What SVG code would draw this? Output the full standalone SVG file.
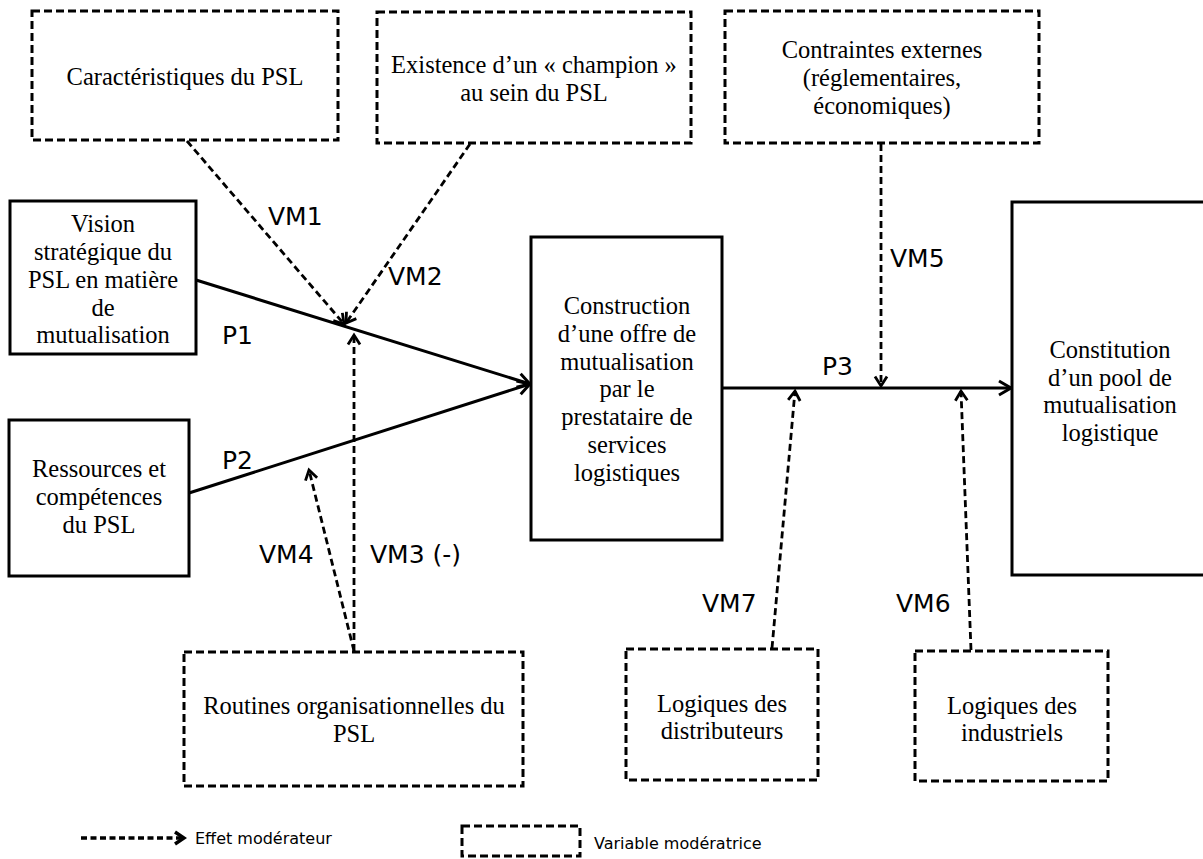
<svg xmlns="http://www.w3.org/2000/svg" width="1203" height="859" viewBox="0 0 1203 859">
<style>
.bg{fill:#fff}
.solid{fill:#fff;stroke:#000;stroke-width:3}
.dash{fill:#fff;stroke:#000;stroke-width:3;stroke-dasharray:8 4}
.t{font-family:"Liberation Serif","Times New Roman",serif;font-size:24.5px;fill:#000;text-anchor:middle}
.lbl{font-family:"DejaVu Sans",Verdana,sans-serif;font-size:25px;fill:#000}
.leg{font-family:"DejaVu Sans",Verdana,sans-serif;font-size:16px;fill:#000}
.c{fill:none;stroke:#000;stroke-width:3}
.cd{fill:none;stroke:#000;stroke-width:2.8;stroke-dasharray:7 4}
</style>
<defs>
<marker id="ah" markerUnits="userSpaceOnUse" markerWidth="20" markerHeight="20" viewBox="0 0 20 20" refX="16" refY="10" orient="auto">
<path d="M4,3 L16,10 L4,17" fill="none" stroke="#000" stroke-width="3" stroke-dasharray="none"/>
</marker>
<marker id="ahd" markerUnits="userSpaceOnUse" markerWidth="16" markerHeight="16" viewBox="0 0 16 16" refX="13" refY="8" orient="auto">
<path d="M3.5,2 L13,8 L3.5,14" fill="none" stroke="#000" stroke-width="2.8" stroke-dasharray="none"/>
</marker>
<marker id="ahl" markerUnits="userSpaceOnUse" markerWidth="16" markerHeight="16" viewBox="0 0 16 16" refX="13" refY="8" orient="auto">
<path d="M4,2 L13,8 L4,14" fill="none" stroke="#000" stroke-width="3.5" stroke-dasharray="none"/>
</marker>
</defs>
<rect class="bg" x="0" y="0" width="1203" height="859"/>

<g id="connectors">
<line id="p1" class="c" x1="196" y1="280" x2="530" y2="384" marker-end="url(#ah)"/>
<line id="p2" class="c" x1="189" y1="493" x2="530" y2="384" marker-end="url(#ah)"/>
<line id="p3" class="c" x1="722" y1="388" x2="1011" y2="388" marker-end="url(#ah)"/>
<line id="vm1" class="cd" x1="187" y1="141" x2="344" y2="324" marker-end="url(#ahd)"/>
<line id="vm2" class="cd" x1="470" y1="144" x2="346" y2="323" marker-end="url(#ahd)"/>
<line id="vm3" class="cd" x1="354" y1="651" x2="354" y2="335" marker-end="url(#ahd)"/>
<line id="vm4" class="cd" x1="354" y1="651" x2="309" y2="470" marker-end="url(#ahd)"/>
<line id="vm5" class="cd" x1="881" y1="144" x2="881" y2="386" marker-end="url(#ahd)"/>
<line id="vm7" class="cd" x1="772" y1="648" x2="795" y2="391" marker-end="url(#ahd)"/>
<line id="vm6" class="cd" x1="971" y1="650" x2="961" y2="391" marker-end="url(#ahd)"/>
<text class="lbl" x="268" y="225">VM1</text>
<text class="lbl" x="388" y="285">VM2</text>
<text class="lbl" x="222" y="344">P1</text>
<text class="lbl" x="222" y="469">P2</text>
<text class="lbl" x="259" y="563">VM4</text>
<text class="lbl" x="370" y="563">VM3 (-)</text>
<text class="lbl" x="890" y="267">VM5</text>
<text class="lbl" x="822" y="375">P3</text>
<text class="lbl" x="702" y="612">VM7</text>
<text class="lbl" x="896" y="612">VM6</text>
</g>

<g id="caracteristiques">
<rect class="dash" x="32" y="11" width="306" height="129"/>
<text class="t" x="185" y="85">Caractéristiques du PSL</text>
</g>
<g id="existence">
<rect class="dash" x="377" y="12" width="314" height="131"/>
<text class="t" x="534" y="73">Existence d’un « champion »</text>
<text class="t" x="534" y="101">au sein du PSL</text>
</g>
<g id="contraintes">
<rect class="dash" x="725" y="11" width="314" height="132"/>
<text class="t" x="882" y="58">Contraintes externes</text>
<text class="t" x="882" y="86">(réglementaires,</text>
<text class="t" x="882" y="114">économiques)</text>
</g>
<g id="vision">
<rect class="solid" x="10" y="201" width="186" height="153"/>
<text class="t" x="103" y="232">Vision</text>
<text class="t" x="103" y="260">stratégique du</text>
<text class="t" x="103" y="288">PSL en matière</text>
<text class="t" x="103" y="316">de</text>
<text class="t" x="103" y="343">mutualisation</text>
</g>
<g id="ressources">
<rect class="solid" x="9" y="420" width="180" height="156"/>
<text class="t" x="99" y="477">Ressources et</text>
<text class="t" x="99" y="505">compétences</text>
<text class="t" x="99" y="533">du PSL</text>
</g>
<g id="construction">
<rect class="solid" x="531" y="237" width="191" height="303"/>
<text class="t" x="627" y="314">Construction</text>
<text class="t" x="627" y="342">d’une offre de</text>
<text class="t" x="627" y="370">mutualisation</text>
<text class="t" x="627" y="397">par le</text>
<text class="t" x="627" y="425">prestataire de</text>
<text class="t" x="627" y="453">services</text>
<text class="t" x="627" y="481">logistiques</text>
</g>
<g id="constitution">
<rect class="solid" x="1012" y="202" width="200" height="373"/>
<text class="t" x="1110" y="358">Constitution</text>
<text class="t" x="1110" y="386">d’un pool de</text>
<text class="t" x="1110" y="413">mutualisation</text>
<text class="t" x="1110" y="441">logistique</text>
</g>
<g id="routines">
<rect class="dash" x="184" y="652" width="339" height="134"/>
<text class="t" x="354" y="714">Routines organisationnelles du</text>
<text class="t" x="354" y="742">PSL</text>
</g>
<g id="distributeurs">
<rect class="dash" x="626" y="649" width="192" height="131"/>
<text class="t" x="722" y="712">Logiques des</text>
<text class="t" x="722" y="739">distributeurs</text>
</g>
<g id="industriels">
<rect class="dash" x="915" y="651" width="193" height="130"/>
<text class="t" x="1012" y="714">Logiques des</text>
<text class="t" x="1012" y="741">industriels</text>
</g>

<g id="legend">
<line x1="81" y1="838" x2="184" y2="838" fill="none" stroke="#000" stroke-width="3.5" stroke-dasharray="6 3.5" marker-end="url(#ahl)"/>
<text class="leg" x="195" y="844">Effet modérateur</text>
<rect class="dash" x="462" y="826" width="118" height="30"/>
<text class="leg" x="594" y="849">Variable modératrice</text>
</g>
</svg>
